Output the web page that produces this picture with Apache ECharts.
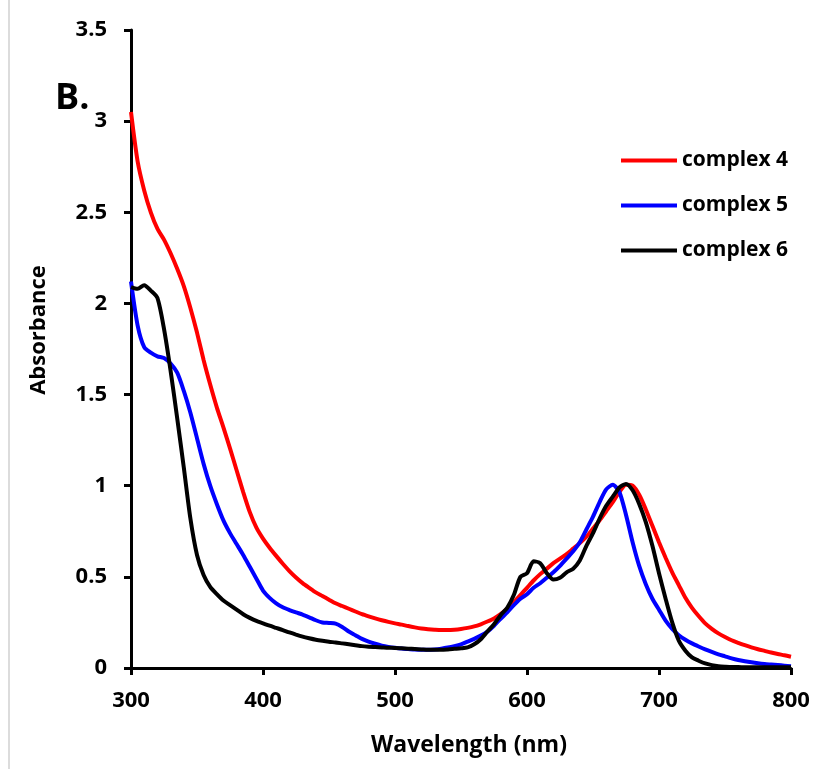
<!DOCTYPE html>
<html>
<head>
<meta charset="utf-8">
<script src="https://cdn.jsdelivr.net/npm/echarts@6/dist/echarts.min.js"></script>
<style>
  html, body { margin: 0; padding: 0; background: #fff; }
  #chart { width: 838px; height: 769px; }
</style>
</head>
<body>
<div id="chart"></div>
<script>
// wavelength grid (nm), 5 nm steps
const wavelength = []
for (let w = 300; w <= 800; w += 5) wavelength.push(w)

const seriesNames = ['complex 4', 'complex 5', 'complex 6']
const seriesColors = ['#ff0000', '#0000ff', '#000000']

// absorbance, one value per wavelength
const complex4 = [
  3.05, 2.78, 2.62, 2.50, 2.41, 2.35, 2.275, 2.19, 2.095, 1.975,
  1.84, 1.69, 1.555, 1.43, 1.32, 1.205, 1.085, 0.965, 0.855, 0.77,
  0.71, 0.66, 0.615, 0.572, 0.532, 0.497, 0.466, 0.44, 0.415, 0.395,
  0.375, 0.355, 0.34, 0.325, 0.31, 0.295, 0.283, 0.272, 0.262, 0.253,
  0.245, 0.238, 0.23, 0.223, 0.217, 0.213, 0.21, 0.208, 0.208, 0.21,
  0.214, 0.22, 0.228, 0.24, 0.255, 0.272, 0.295, 0.325, 0.36, 0.40,
  0.44, 0.48, 0.515, 0.545, 0.575, 0.60, 0.625, 0.655, 0.685, 0.72,
  0.765, 0.81, 0.86, 0.91, 0.965, 1.005, 1.0, 0.95, 0.87, 0.78,
  0.69, 0.605, 0.525, 0.455, 0.385, 0.33, 0.285, 0.245, 0.215, 0.19,
  0.17, 0.152, 0.138, 0.125, 0.113, 0.103, 0.094, 0.085, 0.077, 0.07,
  0.062
]
const complex5 = [
  2.12, 1.88, 1.76, 1.73, 1.71, 1.70, 1.67, 1.62, 1.52, 1.40,
  1.26, 1.12, 1.00, 0.90, 0.81, 0.74, 0.68, 0.62, 0.555, 0.49,
  0.425, 0.385, 0.355, 0.333, 0.318, 0.305, 0.293, 0.278, 0.262, 0.25,
  0.247, 0.243, 0.225, 0.20, 0.18, 0.16, 0.145, 0.133, 0.123, 0.116,
  0.111, 0.107, 0.104, 0.101, 0.10, 0.10, 0.102, 0.106, 0.112, 0.12,
  0.13, 0.145, 0.16, 0.178, 0.20, 0.232, 0.27, 0.305, 0.345, 0.38,
  0.405, 0.44, 0.465, 0.495, 0.525, 0.56, 0.60, 0.64, 0.69, 0.76,
  0.83, 0.91, 0.98, 1.005, 0.965, 0.84, 0.69, 0.56, 0.46, 0.38,
  0.32, 0.26, 0.215, 0.18, 0.155, 0.135, 0.118, 0.102, 0.088, 0.075,
  0.064, 0.053, 0.044, 0.037, 0.031, 0.026, 0.022, 0.019, 0.016, 0.013,
  0.01
]
const complex6 = [
  2.09, 2.08, 2.10, 2.07, 2.03, 1.86, 1.63, 1.37, 1.10, 0.82,
  0.62, 0.51, 0.445, 0.405, 0.37, 0.345, 0.32, 0.295, 0.275, 0.258,
  0.245, 0.232, 0.22, 0.208, 0.195, 0.183, 0.172, 0.163, 0.155, 0.149,
  0.144, 0.14, 0.135, 0.13, 0.125, 0.12, 0.117, 0.115, 0.113, 0.111,
  0.11, 0.108, 0.106, 0.104, 0.102, 0.10, 0.10, 0.10, 0.102, 0.105,
  0.108, 0.113, 0.13, 0.158, 0.20, 0.24, 0.29, 0.33, 0.40, 0.50,
  0.52, 0.585, 0.575, 0.52, 0.485, 0.495, 0.525, 0.545, 0.59, 0.67,
  0.74, 0.82, 0.89, 0.94, 0.99, 1.01, 0.975, 0.90, 0.80, 0.67,
  0.52, 0.38, 0.25, 0.15, 0.095, 0.058, 0.04, 0.025, 0.016, 0.01,
  0.007, 0.005, 0.005, 0.004, 0.004, 0.004, 0.004, 0.004, 0.004, 0.004,
  0.004
]
const absorbance = [complex4, complex5, complex6]

const FONT = '"Open Sans", sans-serif'

const chart = echarts.init(document.getElementById('chart'))

chart.setOption({
  backgroundColor: '#fff',
  animation: false,
  grid: { left: 131, right: 47, top: 30, bottom: 101 },
  legend: {
    orient: 'vertical',
    left: 614,
    top: 145,
    itemWidth: 56,
    itemHeight: 24,
    itemGap: 24,
    itemStyle: { opacity: 0 },
    lineStyle: { width: 4 },
    textStyle: { fontFamily: FONT, fontWeight: 'bold', fontSize: 21, color: '#000' },
    data: seriesNames
  },
  xAxis: {
    type: 'value',
    min: 300,
    max: 800,
    interval: 100,
    splitLine: { show: false },
    axisLine: { lineStyle: { color: '#000', width: 3 } },
    axisTick: { length: 7, lineStyle: { color: '#000', width: 3 } },
    axisLabel: { margin: 22, fontFamily: FONT, fontWeight: 'bold', fontSize: 22, color: '#000' }
  },
  yAxis: {
    type: 'value',
    min: 0,
    max: 3.5,
    interval: 0.5,
    splitLine: { show: false },
    axisLine: { show: true, lineStyle: { color: '#000', width: 3 } },
    axisTick: { show: true, length: 7, lineStyle: { color: '#000', width: 3 } },
    axisLabel: { margin: 24, fontFamily: FONT, fontWeight: 'bold', fontSize: 22, color: '#000' }
  },
  graphic: [
    {
      type: 'text',
      left: 55,
      top: 81,
      style: { text: 'B.', fontFamily: FONT, fontWeight: 'bold', fontSize: 36, fill: '#000' }
    },
    {
      // axis titles placed as in the figure (not centred on the plot)
      type: 'text',
      x: 39,
      y: 330,
      rotation: Math.PI / 2,
      style: {
        text: 'Absorbance', fontFamily: FONT, fontWeight: 'bold', fontSize: 22, fill: '#000',
        align: 'center', verticalAlign: 'middle'
      }
    },
    {
      type: 'text',
      x: 469,
      y: 745,
      style: {
        text: 'Wavelength (nm)', fontFamily: FONT, fontWeight: 'bold', fontSize: 23, fill: '#000',
        align: 'center', verticalAlign: 'middle'
      }
    },
    {
      type: 'line',
      shape: { x1: 9, y1: 0, x2: 9, y2: 769 },
      style: { stroke: '#dcdcdc', lineWidth: 2 }
    }
  ],
  series: seriesNames.map((name, i) => ({
    name,
    type: 'line',
    data: wavelength.map((w, j) => [w, absorbance[i][j]]),
    showSymbol: false,
    symbol: 'none',
    smooth: 0.25,
    lineStyle: { color: seriesColors[i], width: 4 },
    itemStyle: { color: seriesColors[i] }
  }))
})
</script>
</body>
</html>
